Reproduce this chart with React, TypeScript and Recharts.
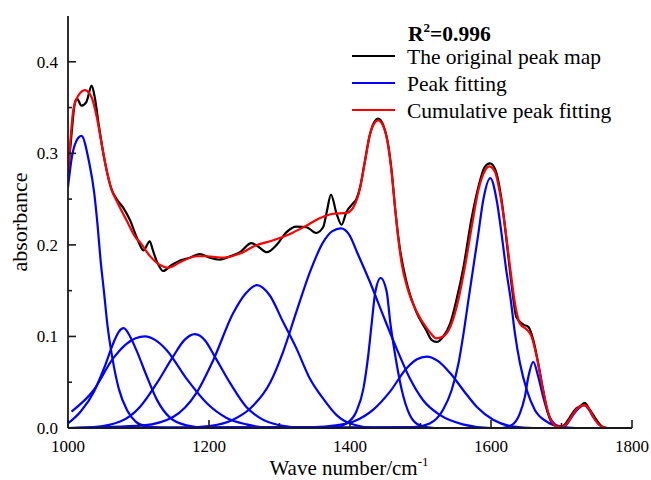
import React from "react";
import { LineChart, Line, XAxis, YAxis } from "recharts";

type Pt = [number, number];

// axis ticks (labels only on the major ones)
const xTicks = [1000, 1100, 1200, 1300, 1400, 1500, 1600, 1700, 1800];
const yTicks = [0, 0.05, 0.1, 0.15, 0.2, 0.25, 0.3, 0.35, 0.4];

// measured spectrum (black)
const original: Pt[] = [
  [1000, 0.278], [1005, 0.321], [1010, 0.356], [1013, 0.3595], [1019, 0.352],
  [1026, 0.356], [1033.6, 0.374], [1038, 0.361], [1044, 0.329], [1052, 0.292],
  [1062, 0.26], [1069, 0.25], [1078, 0.241], [1088, 0.227], [1097, 0.209],
  [1102, 0.2], [1107, 0.194], [1116, 0.204], [1120, 0.195], [1126, 0.182],
  [1135, 0.1715], [1147, 0.178], [1159, 0.183], [1173, 0.186], [1187, 0.19],
  [1201, 0.186], [1215, 0.184], [1230, 0.1876], [1244, 0.192], [1260, 0.202],
  [1270, 0.198], [1282, 0.192], [1296, 0.2], [1310, 0.214], [1324, 0.22],
  [1338, 0.2195], [1352, 0.213], [1362, 0.2195], [1367, 0.236], [1373, 0.255],
  [1381, 0.234], [1388, 0.222], [1395, 0.236], [1404, 0.245], [1409, 0.25],
  [1414, 0.262], [1421, 0.291], [1428, 0.32], [1435, 0.335], [1440, 0.338],
  [1447, 0.331], [1454, 0.31], [1459, 0.281], [1464, 0.24], [1470, 0.2],
  [1480, 0.16], [1494, 0.127], [1508, 0.107], [1516, 0.096], [1523, 0.094],
  [1532, 0.0996], [1542, 0.114], [1551, 0.14], [1561, 0.176], [1572, 0.227],
  [1582, 0.263], [1591, 0.285], [1598.6, 0.289], [1605.7, 0.283], [1615, 0.249],
  [1622, 0.205], [1629, 0.158], [1636, 0.121], [1646, 0.113], [1653, 0.1105],
  [1660, 0.096], [1667, 0.0705], [1674, 0.041], [1681, 0.016], [1688, 0.004],
  [1698, 0.001], [1705, 0.004], [1712, 0.012], [1721, 0.0215], [1727, 0.024],
  [1733, 0.0276], [1740, 0.02], [1747, 0.012], [1757, 0.002], [1765, 0], [1800, 0],
];

// sum of the fitted peaks (red)
const cumulative: Pt[] = [
  [1000, 0.2795], [1003, 0.31], [1007.5, 0.347], [1014.6, 0.363], [1024, 0.369],
  [1033.6, 0.361], [1040.7, 0.34], [1047.8, 0.31], [1055, 0.281], [1062, 0.26],
  [1071, 0.245], [1083, 0.227], [1097, 0.207], [1102, 0.203], [1116, 0.188],
  [1130.5, 0.178], [1142, 0.175], [1159, 0.181], [1182, 0.1876], [1197, 0.1876],
  [1220, 0.186], [1244, 0.1905], [1267, 0.1996], [1291, 0.205], [1315, 0.212],
  [1338, 0.221], [1357, 0.229], [1376, 0.234], [1395, 0.235], [1404.7, 0.241],
  [1414, 0.261], [1421, 0.29], [1428, 0.3195], [1435.5, 0.334], [1440, 0.336],
  [1447, 0.33], [1454, 0.309], [1459, 0.2795], [1464, 0.24], [1468.5, 0.207],
  [1473, 0.181], [1483, 0.149], [1494.6, 0.127], [1508.8, 0.109], [1515, 0.103],
  [1522, 0.098], [1532, 0.1], [1542, 0.11], [1553.6, 0.1396], [1563, 0.176],
  [1572.6, 0.2195], [1582, 0.2595], [1591.5, 0.281], [1597.6, 0.2857], [1605.7, 0.2795],
  [1612.8, 0.256], [1620, 0.2195], [1627, 0.176], [1634, 0.136], [1641, 0.114],
  [1650.6, 0.1076], [1657.7, 0.0996], [1664.8, 0.078], [1672, 0.049], [1679, 0.023],
  [1686, 0.007], [1695.5, 0.0015], [1705, 0.003], [1712, 0.01], [1717, 0.016],
  [1725, 0.023], [1732, 0.025], [1739, 0.021], [1745, 0.012], [1757, 0.0015],
  [1765, 0], [1800, 0],
];

// individual fitted peaks (blue)
const peak1: Pt[] = [
  [1000, 0.263], [1006, 0.298], [1011, 0.312], [1019, 0.319], [1030, 0.29],
  [1037, 0.258], [1042, 0.221], [1046, 0.185], [1051, 0.149], [1056, 0.112],
  [1063, 0.076], [1072, 0.043], [1084, 0.019], [1096, 0.007], [1110, 0.002],
  [1140, 0], [1800, 0],
];
const peak2: Pt[] = [
  [1000, 0.005], [1018, 0.018], [1037, 0.04], [1051, 0.065], [1065, 0.094],
  [1072, 0.105], [1079, 0.109], [1088, 0.1], [1097, 0.085], [1112, 0.056],
  [1126, 0.031], [1145, 0.011], [1168, 0.003], [1200, 0], [1800, 0],
];
const peak3: Pt[] = [
  [1005, 0.018], [1036, 0.041], [1064, 0.076], [1083, 0.092], [1096, 0.098],
  [1109, 0.1], [1124, 0.096], [1140, 0.085], [1168, 0.054], [1197, 0.027],
  [1225, 0.011], [1253, 0.004], [1290, 0], [1800, 0],
];
const peak4: Pt[] = [
  [1000, 0], [1036, 0.001], [1074, 0.007], [1102, 0.023], [1126, 0.049],
  [1149, 0.078], [1165, 0.096], [1180, 0.1025], [1195, 0.095], [1206, 0.081],
  [1230, 0.049], [1253, 0.023], [1272, 0.011], [1300, 0.003], [1340, 0], [1800, 0],
];
const peak5: Pt[] = [
  [1000, 0], [1107, 0.003], [1149, 0.012], [1182, 0.038], [1206, 0.074],
  [1234, 0.125], [1252, 0.147], [1268, 0.156], [1286, 0.145], [1305, 0.116],
  [1324, 0.087], [1343, 0.054], [1362, 0.032], [1381, 0.014], [1400, 0.005],
  [1440, 0], [1800, 0],
];
const peak6: Pt[] = [
  [1000, 0], [1160, 0], [1200, 0.002], [1234, 0.009], [1258, 0.021],
  [1287, 0.05], [1305, 0.083], [1324, 0.127], [1343, 0.17], [1362, 0.203],
  [1375, 0.215], [1387, 0.218], [1399, 0.211], [1410, 0.192], [1428, 0.16],
  [1447, 0.123], [1466, 0.087], [1485, 0.054], [1504, 0.03], [1528, 0.014],
  [1560, 0.004], [1600, 0], [1800, 0],
];
const peak7: Pt[] = [
  [1000, 0], [1380, 0.001], [1395, 0.005], [1409, 0.018], [1419, 0.043],
  [1426, 0.08], [1431, 0.116], [1436, 0.149], [1443.5, 0.164], [1452, 0.149],
  [1457, 0.116], [1464, 0.08], [1473, 0.043], [1485, 0.014], [1499, 0.003],
  [1520, 0], [1800, 0],
];
const peak8: Pt[] = [
  [1000, 0], [1350, 0.001], [1380, 0.003], [1405, 0.007], [1433, 0.02],
  [1457, 0.04], [1480, 0.065], [1495, 0.075], [1509, 0.078], [1525, 0.073],
  [1542, 0.06], [1561, 0.041], [1580, 0.023], [1603, 0.009], [1632, 0.0015],
  [1660, 0], [1800, 0],
];
const peak9: Pt[] = [
  [1000, 0], [1490, 0.001], [1513, 0.005], [1532, 0.02], [1544, 0.041],
  [1554, 0.071], [1561, 0.103], [1568, 0.14], [1575, 0.176], [1582, 0.212],
  [1589, 0.249], [1599, 0.273], [1608, 0.249], [1615, 0.212], [1621, 0.176],
  [1628, 0.14], [1634, 0.103], [1641, 0.071], [1651, 0.041], [1662, 0.02],
  [1679, 0.007], [1698, 0.0015], [1720, 0], [1800, 0],
];
const peak10: Pt[] = [
  [1000, 0], [1615, 0], [1629, 0.003], [1641, 0.016], [1648, 0.034],
  [1653, 0.056], [1660, 0.0723], [1667, 0.056], [1674, 0.034], [1681, 0.016],
  [1693, 0.003], [1710, 0], [1800, 0],
];
const peak11: Pt[] = [
  [1000, 0], [1698, 0], [1705, 0.002], [1712, 0.009], [1717, 0.015],
  [1725, 0.022], [1732, 0.025], [1739, 0.02], [1745, 0.012], [1757, 0.0015],
  [1765, 0], [1800, 0],
];

const peaks = [peak1, peak2, peak3, peak4, peak5, peak6, peak7, peak8, peak9, peak10, peak11];

const legendItems = [
  { label: "The original peak map", color: "#000000" },
  { label: "Peak fitting", color: "#0000ff" },
  { label: "Cumulative peak fitting", color: "#ff0000" },
];

const toRows = (pts: Pt[]) => pts.map(([x, y]) => ({ x, y }));

const W = 651;
const H = 480;
const LEFT = 68;
const BOTTOM = 428;
const FONT = "'Liberation Serif', 'Times New Roman', serif";
const AXIS = "#1a1a1a";

const YTick = (props: any) => {
  const { y, payload } = props;
  const v = payload.value as number;
  const major = Math.round(v * 100) % 10 === 0;
  return (
    <g>
      <line x1={LEFT} x2={LEFT + (major ? 8 : 4)} y1={y} y2={y} stroke={AXIS} strokeWidth={1.6} />
      {major && (
        <text x={LEFT - 10} y={y} dy="0.35em" textAnchor="end" fontFamily={FONT} fontSize={17} fill="#000">
          {v.toFixed(1)}
        </text>
      )}
    </g>
  );
};

const XTick = (props: any) => {
  const { x, payload } = props;
  const v = payload.value as number;
  const major = v % 200 === 0;
  return (
    <g>
      <line x1={x} x2={x} y1={BOTTOM} y2={BOTTOM - (major ? 8 : 5)} stroke={AXIS} strokeWidth={1.6} />
      {major && (
        <text x={x} y={BOTTOM + 12} dy="0.71em" textAnchor="middle" fontFamily={FONT} fontSize={17} fill="#000">
          {v}
        </text>
      )}
    </g>
  );
};

export default function App() {
  return (
    <div style={{ position: "relative", width: W, height: H, background: "#fff" }}>
      <style>{"body{margin:0}"}</style>
      <LineChart width={W} height={H} margin={{ top: 16, right: 19, bottom: 0, left: 0 }}>
        <XAxis
          dataKey="x"
          type="number"
          domain={[1000, 1800]}
          ticks={xTicks}
          tick={<XTick />}
          tickLine={false}
          tickSize={0}
          height={52}
          allowDataOverflow
          stroke={AXIS}
          strokeWidth={1.8}
        />
        <XAxis xAxisId="top" orientation="top" type="number" domain={[1000, 1800]} tick={false} tickLine={false} height={0} stroke={AXIS} strokeWidth={1.8} />
        <YAxis
          type="number"
          domain={[0, 0.45]}
          ticks={yTicks}
          tick={<YTick />}
          tickLine={false}
          tickSize={0}
          width={68}
          allowDataOverflow
          stroke={AXIS}
          strokeWidth={1.8}
        />
        <YAxis yAxisId="right" orientation="right" domain={[0, 0.45]} tick={false} tickLine={false} width={0} stroke={AXIS} strokeWidth={1.8} />
        {peaks.map((p, i) => (
          <Line
            key={`peak${i}`}
            data={toRows(p)}
            dataKey="y"
            type="monotone"
            stroke="#0000ff"
            strokeWidth={2.2}
            dot={false}
            activeDot={false}
            isAnimationActive={false}
          />
        ))}
        <Line data={toRows(original)} dataKey="y" type="monotone" stroke="#000000" strokeWidth={2.2} dot={false} activeDot={false} isAnimationActive={false} />
        <Line data={toRows(cumulative)} dataKey="y" type="monotone" stroke="#ff0000" strokeWidth={2.2} dot={false} activeDot={false} isAnimationActive={false} />
      </LineChart>

      <svg width={W} height={H} style={{ position: "absolute", left: 0, top: 0, pointerEvents: "none" }}>
        <text transform="translate(27,222) rotate(-90)" textAnchor="middle" fontFamily={FONT} fontSize={22} fill="#000">
          absorbance
        </text>
        <text x={349} y={475} textAnchor="middle" fontFamily={FONT} fontSize={21} fill="#000">
          Wave number/cm<tspan fontSize={13} dy={-9}>-1</tspan>
        </text>
        <text x={408} y={40.5} fontFamily={FONT} fontSize={21.5} fontWeight="bold" fill="#000">
          R<tspan fontSize={13} dy={-9}>2</tspan><tspan dy={9}>=0.996</tspan>
        </text>
        {legendItems.map((item, i) => (
          <g key={item.label}>
            <line x1={352} x2={395} y1={56 + i * 27} y2={56 + i * 27} stroke={item.color} strokeWidth={2.2} />
            <text x={407} y={63.5 + i * 27} fontFamily={FONT} fontSize={21.5} fill="#000">
              {item.label}
            </text>
          </g>
        ))}
      </svg>
    </div>
  );
}
